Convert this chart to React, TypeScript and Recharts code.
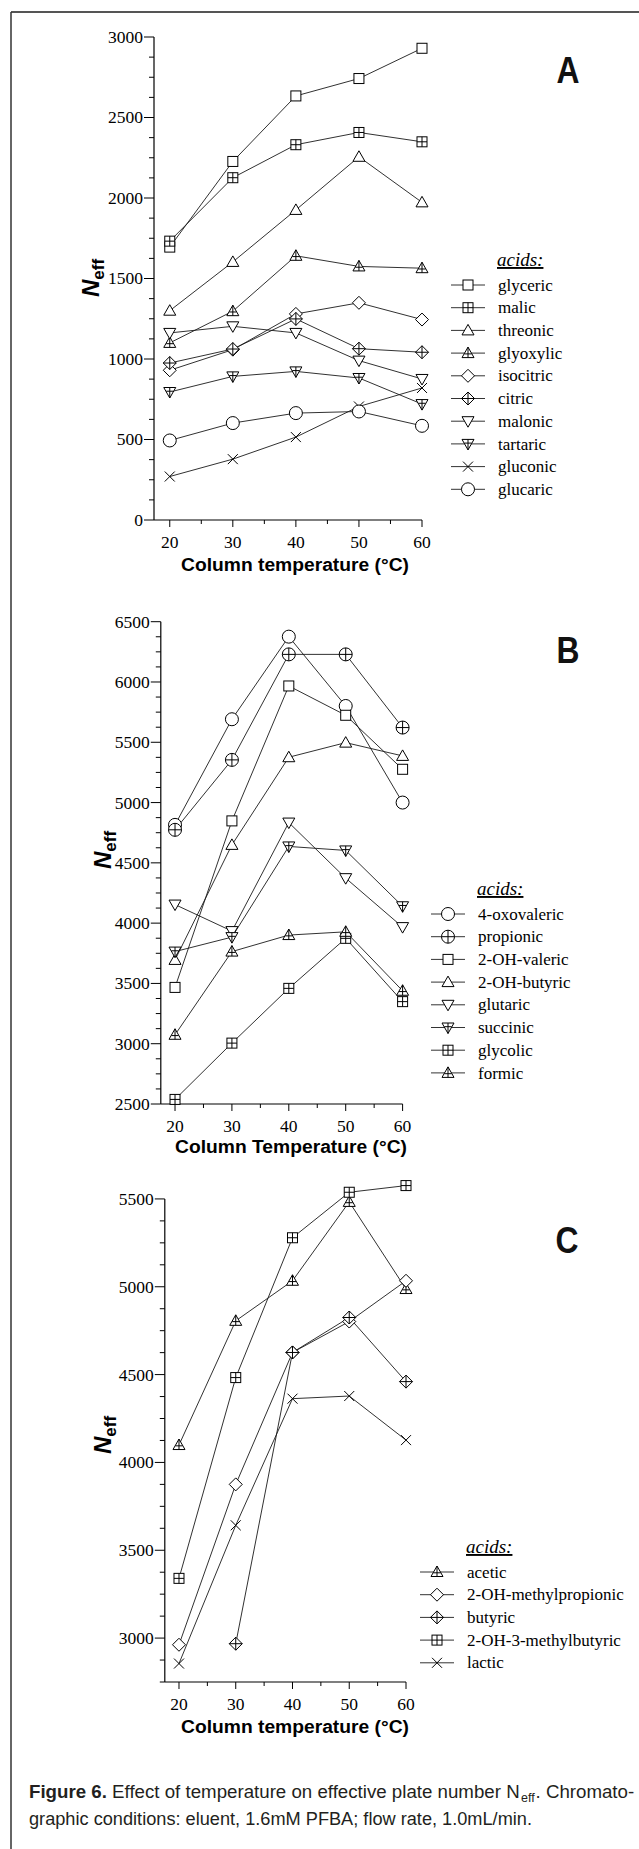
import React from 'react';
import { LineChart, Line, XAxis, YAxis, Legend, ReferenceLine } from 'recharts';

// column temperatures (°C)
const temps = [20, 30, 40, 50, 60];
const tempTicks = [20, 25, 30, 35, 40, 45, 50, 55, 60];

// panel A
const glyceric = [1695, 2227, 2634, 2742, 2930];
const malic = [1732, 2126, 2331, 2407, 2349];
const threonic = [1300, 1603, 1926, 2256, 1973];
const glyoxylic = [1100, 1297, 1641, 1575, 1564];
const isocitric = [930, 1058, 1280, 1349, 1245];
const citric = [975, 1062, 1249, 1064, 1042];
const malonic = [1162, 1203, 1162, 990, 876];
const tartaric = [795, 892, 923, 882, 720];
const gluconic = [270, 378, 515, 705, 820];
const glucaric = [494, 602, 664, 674, 585];
const yTicksA = [
  0, 125, 250, 375, 500, 625, 750, 875, 1000, 1125, 1250, 1375, 1500, 1625, 1750, 1875, 2000, 2125, 2250,
  2375, 2500, 2625, 2750, 2875, 3000,
];

// panel B
const oxovaleric = [4815, 5691, 6376, 5801, 5000];
const propionic = [4774, 5354, 6229, 6229, 5622];
const ohValeric = [3467, 4848, 5967, 5724, 5276];
const ohButyric = [3695, 4649, 5376, 5497, 5387];
const glutaric = [4154, 3934, 4834, 4373, 3967];
const succinic = [3764, 3884, 4636, 4603, 4140];
const glycolic = [2538, 3005, 3459, 3874, 3349];
const formic = [3074, 3764, 3901, 3928, 3439];
const yTicksB = [
  2500, 2625, 2750, 2875, 3000, 3125, 3250, 3375, 3500, 3625, 3750, 3875, 4000, 4125, 4250, 4375, 4500,
  4625, 4750, 4875, 5000, 5125, 5250, 5375, 5500, 5625, 5750, 5875, 6000, 6125, 6250, 6375, 6500,
];

// panel C
const acetic = [4099, 4806, 5034, 5483, 4987];
const ohMethylpropionic = [2962, 3875, 4626, 4802, 5034];
const butyric = [null, 2968, 4626, 4825, 4460];
const ohMethylbutyric = [3340, 4483, 5279, 5538, 5576];
const lactic = [2855, 3642, 4363, 4378, 4127];
const yTicksC = [
  2750, 2875, 3000, 3125, 3250, 3375, 3500, 3625, 3750, 3875, 4000, 4125, 4250, 4375, 4500, 4625, 4750,
  4875, 5000, 5125, 5250, 5375, 5500,
];

type Shape =
  | 'square'
  | 'squarePlus'
  | 'triangle'
  | 'trianglePlus'
  | 'diamond'
  | 'diamondPlus'
  | 'triDown'
  | 'triDownPlus'
  | 'cross'
  | 'circle'
  | 'circlePlus';

interface Series {
  key: string;
  name: string;
  values: (number | null)[];
  shape: Shape;
}

const seriesA: Series[] = [
  { key: 'glyceric', name: 'glyceric', values: glyceric, shape: 'square' },
  { key: 'malic', name: 'malic', values: malic, shape: 'squarePlus' },
  { key: 'threonic', name: 'threonic', values: threonic, shape: 'triangle' },
  { key: 'glyoxylic', name: 'glyoxylic', values: glyoxylic, shape: 'trianglePlus' },
  { key: 'isocitric', name: 'isocitric', values: isocitric, shape: 'diamond' },
  { key: 'citric', name: 'citric', values: citric, shape: 'diamondPlus' },
  { key: 'malonic', name: 'malonic', values: malonic, shape: 'triDown' },
  { key: 'tartaric', name: 'tartaric', values: tartaric, shape: 'triDownPlus' },
  { key: 'gluconic', name: 'gluconic', values: gluconic, shape: 'cross' },
  { key: 'glucaric', name: 'glucaric', values: glucaric, shape: 'circle' },
];

const seriesB: Series[] = [
  { key: 'oxovaleric', name: '4-oxovaleric', values: oxovaleric, shape: 'circle' },
  { key: 'propionic', name: 'propionic', values: propionic, shape: 'circlePlus' },
  { key: 'ohValeric', name: '2-OH-valeric', values: ohValeric, shape: 'square' },
  { key: 'ohButyric', name: '2-OH-butyric', values: ohButyric, shape: 'triangle' },
  { key: 'glutaric', name: 'glutaric', values: glutaric, shape: 'triDown' },
  { key: 'succinic', name: 'succinic', values: succinic, shape: 'triDownPlus' },
  { key: 'glycolic', name: 'glycolic', values: glycolic, shape: 'squarePlus' },
  { key: 'formic', name: 'formic', values: formic, shape: 'trianglePlus' },
];

const seriesC: Series[] = [
  { key: 'acetic', name: 'acetic', values: acetic, shape: 'trianglePlus' },
  { key: 'ohMethylpropionic', name: '2-OH-methylpropionic', values: ohMethylpropionic, shape: 'diamond' },
  { key: 'butyric', name: 'butyric', values: butyric, shape: 'diamondPlus' },
  { key: 'ohMethylbutyric', name: '2-OH-3-methylbutyric', values: ohMethylbutyric, shape: 'squarePlus' },
  { key: 'lactic', name: 'lactic', values: lactic, shape: 'cross' },
];

const SERIF = "'Liberation Serif', 'Times New Roman', serif";
const SANS = "'Liberation Sans', Arial, sans-serif";

const Marker = ({ shape, cx, cy }: { shape: Shape; cx: number; cy: number }) => {
  const st = { fill: '#fff', stroke: '#000', strokeWidth: 1 };
  const ln = { fill: 'none', stroke: '#000', strokeWidth: 1 };
  switch (shape) {
    case 'square':
      return <rect x={cx - 5} y={cy - 5} width={10} height={10} {...st} />;
    case 'squarePlus':
      return (
        <g>
          <rect x={cx - 5} y={cy - 5} width={10} height={10} {...st} />
          <path d={`M${cx - 5},${cy}H${cx + 5}M${cx},${cy - 5}V${cy + 5}`} {...ln} />
        </g>
      );
    case 'triangle':
      return <path d={`M${cx},${cy - 6}L${cx + 6},${cy + 4.5}L${cx - 6},${cy + 4.5}Z`} {...st} />;
    case 'trianglePlus':
      return (
        <g>
          <path d={`M${cx},${cy - 6}L${cx + 6},${cy + 4.5}L${cx - 6},${cy + 4.5}Z`} {...st} />
          <path d={`M${cx},${cy - 6}V${cy + 4.5}M${cx - 3.6},${cy + 0.8}H${cx + 3.6}`} {...ln} />
        </g>
      );
    case 'diamond':
      return <path d={`M${cx},${cy - 6.5}L${cx + 6.5},${cy}L${cx},${cy + 6.5}L${cx - 6.5},${cy}Z`} {...st} />;
    case 'diamondPlus':
      return (
        <g>
          <path d={`M${cx},${cy - 6.5}L${cx + 6.5},${cy}L${cx},${cy + 6.5}L${cx - 6.5},${cy}Z`} {...st} />
          <path d={`M${cx - 6.5},${cy}H${cx + 6.5}M${cx},${cy - 6.5}V${cy + 6.5}`} {...ln} />
        </g>
      );
    case 'triDown':
      return <path d={`M${cx},${cy + 6}L${cx + 6},${cy - 4.5}L${cx - 6},${cy - 4.5}Z`} {...st} />;
    case 'triDownPlus':
      return (
        <g>
          <path d={`M${cx},${cy + 6}L${cx + 6},${cy - 4.5}L${cx - 6},${cy - 4.5}Z`} {...st} />
          <path d={`M${cx},${cy + 6}V${cy - 4.5}M${cx - 3.6},${cy - 0.8}H${cx + 3.6}`} {...ln} />
        </g>
      );
    case 'cross':
      return <path d={`M${cx - 5},${cy - 5}L${cx + 5},${cy + 5}M${cx + 5},${cy - 5}L${cx - 5},${cy + 5}`} {...ln} />;
    case 'circle':
      return <circle cx={cx} cy={cy} r={6.5} {...st} />;
    case 'circlePlus':
      return (
        <g>
          <circle cx={cx} cy={cy} r={6.5} {...st} />
          <path d={`M${cx - 6.5},${cy}H${cx + 6.5}M${cx},${cy - 6.5}V${cy + 6.5}`} {...ln} />
        </g>
      );
    default:
      return null;
  }
};

const YTick = (props: any) => {
  const { x, y, payload } = props;
  const major = payload.value % 500 === 0;
  return (
    <g>
      <line x1={x - (major ? 10 : 5)} x2={x} y1={y} y2={y} stroke="#000" strokeWidth={1} />
      {major && (
        <text x={x - 11} y={y} dy="0.34em" textAnchor="end" fontFamily={SERIF} fontSize={17.5} fill="#000">
          {payload.value}
        </text>
      )}
    </g>
  );
};

const XTick = (props: any) => {
  const { x, y, payload } = props;
  const major = payload.value % 10 === 0;
  return (
    <g>
      <line x1={x} x2={x} y1={y} y2={y + (major ? 7 : 4)} stroke="#000" strokeWidth={1} />
      {major && (
        <text x={x} y={y + 28} textAnchor="middle" fontFamily={SERIF} fontSize={17.5} fill="#000">
          {payload.value}
        </text>
      )}
    </g>
  );
};

const LegendBox = ({ series }: { series: Series[] }) => (
  <svg width={220} height={50 + series.length * 22.7} style={{ display: 'block' }}>
    <text
      x={59}
      y={21}
      fontFamily={SERIF}
      fontStyle="italic"
      fontSize={19}
      fill="#000"
      style={{ textDecoration: 'underline' }}
    >
      acids:
    </text>
    {series.map((s, i) => {
      const cy = 40 + i * 22.7;
      return (
        <g key={s.key}>
          <line x1={13} x2={47} y1={cy} y2={cy} stroke="#333" strokeWidth={1} />
          <Marker shape={s.shape} cx={30} cy={cy} />
          <text x={60} y={cy} dy="0.33em" fontFamily={SERIF} fontSize={17} fill="#000">
            {s.name}
          </text>
        </g>
      );
    })}
  </svg>
);

interface PanelProps {
  top: number;
  height: number;
  margin: { top: number; right: number; bottom: number; left: number };
  yDomain: [number, number];
  yTicks: number[];
  series: Series[];
  legendPos: { left: number; top: number };
  axisTop?: number;
}

const Panel = ({ top, height, margin, yDomain, yTicks, series, legendPos, axisTop }: PanelProps) => {
  const rows = temps.map((t, i) => {
    const row: Record<string, number | null> = { t };
    series.forEach((s) => {
      row[s.key] = s.values[i];
    });
    return row;
  });
  return (
    <div style={{ position: 'absolute', left: 0, top }}>
      <LineChart width={639} height={height} data={rows} margin={margin}>
        <XAxis
          dataKey="t"
          type="number"
          domain={[17.5, 60]}
          ticks={tempTicks}
          interval={0}
          tickSize={0}
          tickMargin={0}
          tickLine={false}
          tick={<XTick />}
          height={30}
          axisLine={{ stroke: '#000', strokeWidth: 1.2 }}
        />
        <YAxis
          type="number"
          domain={yDomain}
          ticks={yTicks}
          interval={0}
          tickSize={0}
          tickMargin={0}
          tickLine={false}
          tick={<YTick />}
          width={60}
          axisLine={axisTop === undefined ? { stroke: '#000', strokeWidth: 1.2 } : false}
        />
        {axisTop !== undefined && (
          <ReferenceLine
            segment={[
              { x: 17.5, y: yDomain[0] },
              { x: 17.5, y: axisTop },
            ]}
            stroke="#000"
            strokeWidth={1.2}
            ifOverflow="visible"
          />
        )}
        {series.map((s) => (
          <Line
            key={s.key}
            dataKey={s.key}
            name={s.name}
            type="linear"
            stroke="#1a1a1a"
            strokeWidth={0.9}
            isAnimationActive={false}
            activeDot={false}
            dot={(p: any) =>
              p.cy == null || p.value == null ? (
                <g key={`${s.key}-${p.index}`} />
              ) : (
                <Marker key={`${s.key}-${p.index}`} shape={s.shape} cx={p.cx} cy={p.cy} />
              )
            }
          />
        ))}
        <Legend
          layout="vertical"
          align="center"
          verticalAlign="middle"
          wrapperStyle={{ left: legendPos.left, top: legendPos.top, width: 220 }}
          content={() => <LegendBox series={series} />}
        />
      </LineChart>
    </div>
  );
};

const NLabel = ({ x, y }: { x: number; y: number }) => (
  <text transform={`translate(${x},${y}) rotate(-90)`} textAnchor="middle" fontFamily={SANS} fontWeight="bold" fill="#000">
    <tspan fontStyle="italic" fontSize={24}>
      N
    </tspan>
    <tspan fontSize={17} dy={5}>
      eff
    </tspan>
  </text>
);

const AxisTitle = ({ x, y, len, children }: { x: number; y: number; len: number; children: React.ReactNode }) => (
  <text
    x={x}
    y={y}
    textAnchor="middle"
    fontFamily={SANS}
    fontWeight="bold"
    fontSize={18}
    textLength={len}
    lengthAdjust="spacingAndGlyphs"
    fill="#000"
  >
    {children}
  </text>
);

const PanelLetter = ({ x, y, children }: { x: number; y: number; children: React.ReactNode }) => (
  <text
    x={x}
    y={y}
    textAnchor="middle"
    fontFamily={SANS}
    fontWeight="bold"
    fontSize={37}
    textLength={23}
    lengthAdjust="spacingAndGlyphs"
    fill="#111"
  >
    {children}
  </text>
);

export default function App() {
  return (
    <div style={{ position: 'absolute', left: 0, top: 0, width: 639, height: 1849, background: '#fff', overflow: 'hidden' }}>
      <Panel
        top={0}
        height={600}
        margin={{ top: 37, right: 217, bottom: 50, left: 94 }}
        yDomain={[0, 3000]}
        yTicks={yTicksA}
        series={seriesA}
        legendPos={{ left: 438, top: 245 }}
      />
      <Panel
        top={580}
        height={620}
        margin={{ top: 41.7, right: 236.4, bottom: 66, left: 100.8 }}
        yDomain={[2500, 6500]}
        yTicks={yTicksB}
        series={seriesB}
        legendPos={{ left: 418, top: 294 }}
      />
      <Panel
        top={1150}
        height={620}
        margin={{ top: 34, right: 233, bottom: 58, left: 104.8 }}
        yDomain={[2750, 5585]}
        yTicks={yTicksC}
        series={seriesC}
        legendPos={{ left: 407, top: 382 }}
        axisTop={5500}
      />
      <svg
        width={639}
        height={1849}
        style={{ position: 'absolute', left: 0, top: 0, pointerEvents: 'none' }}
      >
        <line x1={11} x2={639} y1={12} y2={12} stroke="#555" strokeWidth={2} />
        <line x1={11} x2={11} y1={12} y2={1849} stroke="#333" strokeWidth={1.5} />

        <PanelLetter x={568} y={83}>A</PanelLetter>
        <PanelLetter x={568} y={663}>B</PanelLetter>
        <PanelLetter x={567} y={1253}>C</PanelLetter>

        <NLabel x={99} y={278} />
        <NLabel x={111} y={850} />
        <NLabel x={111} y={1435} />

        <AxisTitle x={295} y={571} len={228}>
          Column temperature (°C)
        </AxisTitle>
        <AxisTitle x={291} y={1153} len={232}>
          Column Temperature (°C)
        </AxisTitle>
        <AxisTitle x={295} y={1733} len={228}>
          Column temperature (°C)
        </AxisTitle>

        <text x={29} y={1798} fontFamily={SANS} fontSize={18.7} fill="#231f20">
          <tspan fontWeight="bold">Figure 6.</tspan>
          <tspan> Effect of temperature on effective plate number N</tspan>
        </text>
        <text x={521} y={1802} fontFamily={SANS} fontSize={12.5} fill="#231f20">
          eff
        </text>
        <text x={535.5} y={1798} fontFamily={SANS} fontSize={18.7} fill="#231f20">
          . Chromato-
        </text>
        <text
          x={29}
          y={1825}
          fontFamily={SANS}
          fontSize={18.7}
          fill="#231f20"
          textLength={503}
          lengthAdjust="spacingAndGlyphs"
        >
          graphic conditions: eluent, 1.6mM PFBA; flow rate, 1.0mL/min.
        </text>
      </svg>
    </div>
  );
}
